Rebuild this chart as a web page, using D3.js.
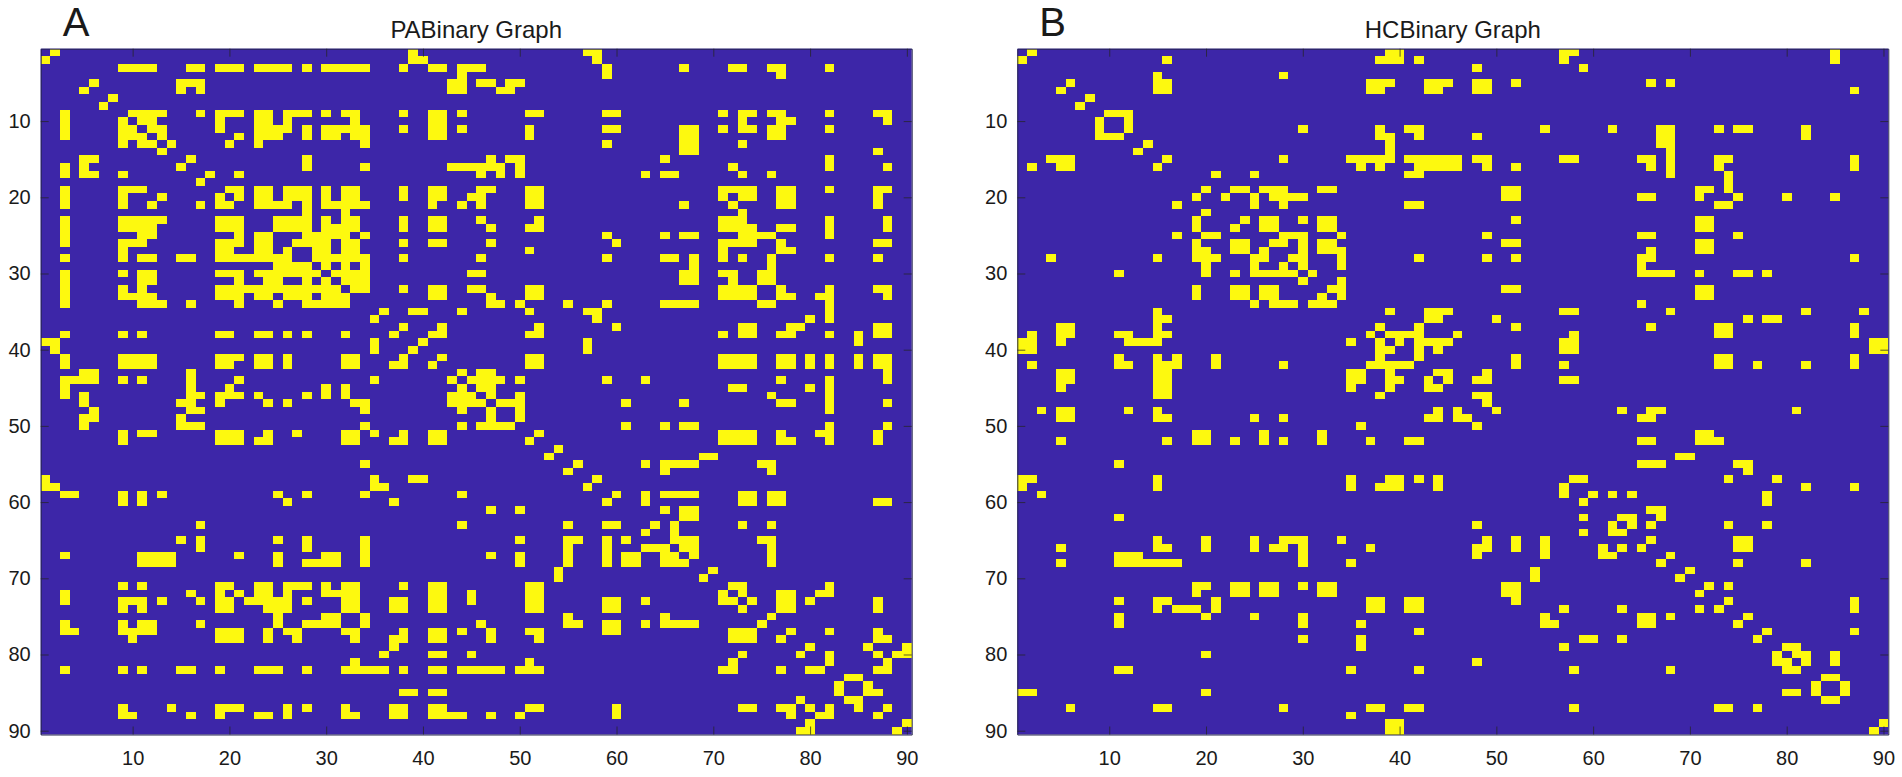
<!DOCTYPE html>
<html>
<head>
<meta charset="utf-8">
<script src="https://cdn.jsdelivr.net/npm/d3@7"></script>
<style>
  html, body { margin: 0; padding: 0; background: #fff; }
  svg { display: block; }
  text { font-family: "Liberation Sans", Arial, sans-serif; fill: #1a1a1a; }
</style>
</head>
<body>
<div id="chart"></div>
<script>
// binary graphs, 90 x 90, symmetric
// each list holds the columns set in that row, right of the diagonal only
var paRows = [
  [2,39,57,58],
  [39,40,58],
  [9,10,11,12,16,17,19,20,21,23,24,25,26,28,30,31,32,33,34,38,41,42,44,45,46,59,67,72,73,76,77,82],
  [44,59,77],
  [6,15,16,17,43,44,46,47,49,50],
  [15,17,43,44,48,49],
  [8],
  [],
  [10,11,12,13,17,19,20,21,23,24,26,27,28,30,32,33,38,41,42,44,51,52,59,60,71,73,74,76,77,82,87,88],
  [11,12,19,23,24,26,33,41,42,73,77,78,88],
  [12,13,19,23,24,25,26,28,30,31,32,33,34,38,41,42,44,51,59,60,67,68,71,73,74,76,77,82],
  [13,21,23,24,25,28,30,31,33,34,41,42,51,67,68,76,77],
  [14,20,23,34,59,67,68,73],
  [67,68,87],
  [16,28,47,49,50,65,82],
  [28,34,43,44,45,46,47,48,50,72,82,88],
  [18,21,46,48,50,63,65,66,73,76],
  [],
  [20,21,23,24,26,27,28,30,32,33,38,41,42,46,47,51,52,71,72,73,74,77,78,82,87,88],
  [21,23,24,26,27,28,30,32,33,38,41,42,45,46,51,52,71,73,74,77,78,87],
  [23,24,25,26,28,30,31,32,33,34,41,44,46,51,52,67,72,77,78,87],
  [28,32,73],
  [25,26,27,28,30,32,33,38,41,42,46,52,71,72,73,82,88],
  [25,26,27,28,30,31,32,33,38,41,42,47,51,52,71,72,73,74,77,78,82,88],
  [28,29,30,31,32,34,59,65,67,68,73,74,75,76,82],
  [27,28,29,30,32,33,38,41,42,47,60,71,72,73,74,77,87,88],
  [29,30,32,33,51,71,77,78],
  [29,30,31,32,33,34,38,46,59,65,66,68,71,73,76,82,87],
  [30,32,34,68,76],
  [31,32,33,34,45,46,67,68,71,72,75,76],
  [32,33,34,67,68,72,75,76],
  [33,34,38,41,42,45,46,51,52,71,72,73,74,77,82,87,88],
  [41,42,47,51,52,71,72,73,74,77,78,81,82,88],
  [47,48,50,55,59,65,66,67,68,75,76,82],
  [36,39,40,44,51,57,58,82],
  [58,80,82],
  [38,42,52,60,73,74,78,79,87,88],
  [41,42,51,52,71,73,74,77,78,82,85,87,88],
  [40,57,85],
  [57],
  [42,51,52,71,72,73,74,77,78,80,82,85,87,88],
  [51,52,71,72,73,74,77,78,80,82,85,87,88],
  [44,46,47,88],
  [45,46,47,48,50,59,63,77,82,88],
  [46,47,72,73,80,82],
  [47,50,76,82],
  [48,49,50,61,67,77,78,82,88],
  [50,82],
  [50],
  [61,65,67,68,82,88],
  [52,71,72,73,74,77,81,82,87],
  [71,72,73,74,77,78,82,87],
  [54],
  [69,70],
  [56,63,65,66,67,68,75,76],
  [65,76],
  [58],
  [],
  [60,63,65,66,67,68,73,74,76,77],
  [63,73,74,76,77,87,88],
  [65,67,68],
  [67,68],
  [64,66,73,76],
  [66],
  [66,67,68,75,76],
  [67,68,76],
  [68,76],
  [76],
  [70],
  [],
  [72,73,82],
  [73,77,78,81,82],
  [74,77,78,80,87],
  [77,78,87],
  [76],
  [],
  [78,82,87],
  [87,88],
  [80,86,90],
  [82,87,89,90],
  [82,88],
  [87,88],
  [84,85],
  [86],
  [86,87],
  [],
  [88],
  [],
  [90],
  []
];

var hcRows = [
  [2,39,40,57,58,85],
  [16,38,39,40,42,57,85],
  [48,59],
  [15,28],
  [6,15,16,37,38,39,43,44,45,48,49,52,66,68],
  [15,16,37,38,43,44,48,49,87],
  [8],
  [],
  [10,11,12],
  [12],
  [12,30,38,41,42,55,62,67,68,73,75,76,82],
  [38,39,42,48,67,68,82],
  [14,39,67,68],
  [39,68],
  [16,28,35,36,37,38,39,41,42,43,44,45,46,48,49,57,58,65,66,68,73,74,87],
  [36,38,42,43,44,45,46,49,52,66,68,73,87],
  [21,25,41,42,68,74],
  [74],
  [20,23,24,26,27,28,32,33,51,52,71,72,74],
  [22,25,27,28,29,30,51,52,65,66,71,75,80,85],
  [25,28,41,42,73,74],
  [],
  [24,26,27,30,32,33,52,71,72],
  [26,27,32,33,71,72],
  [28,29,30,34,49,65,66,75],
  [27,28,30,32,33,51,52,71,72],
  [30,32,33,34,66,71,72],
  [29,30,34,42,49,52,65,66,87],
  [30,34,65],
  [31,65,66,67,68,71,75,76,78],
  [34],
  [33,34,51,52,71,72],
  [34,71,72],
  [65],
  [39,43,44,45,57,58,68,82,88],
  [43,44,50,76,78,79],
  [38,42,52,66,73,74,87],
  [39,40,41,42,46,58,73,74,87],
  [40,42,43,44,45,57,58,89,90],
  [42,44,57,58,89,90],
  [42,52,73,74,87],
  [52,57,73,74,77,82,87],
  [44,45,49],
  [45,48,49,57,58],
  [],
  [48,49],
  [49],
  [50,63,66,67,81],
  [65,66],
  [],
  [71,72],
  [65,66,71,72,73],
  [],
  [69,70],
  [65,66,67,75,76],
  [76],
  [58,59,74,79],
  [82,87],
  [60,62,64,78],
  [78],
  [66,67],
  [63,64,67],
  [64,66,74,78],
  [],
  [66,75,76],
  [75,76],
  [68],
  [75,82],
  [70],
  [],
  [72,74],
  [],
  [74,87],
  [87],
  [76],
  [],
  [78,87],
  [],
  [80,81],
  [81,82,85],
  [82,85],
  [],
  [84,85],
  [86],
  [86],
  [],
  [],
  [],
  [90],
  []
];

var tickLabels = [10,20,30,40,50,60,70,80,90];
var panelTitles = ["PABinary Graph", "HCBinary Graph"];
var panelLetters = ["A", "B"];

const width = 1902;
const height = 777;
const n = 90;
const color_low = "#3D26A8";
const color_high = "#FDF90F";

const svg = d3.select("#chart")
              .append("svg")
              .attr("width", width)
              .attr("height", height);

function drawPanel(rows, title, letter, left, right, top, bottom) {
    var x = d3.scaleLinear().domain([0.5, n + 0.5]).range([left, right]);
    var y = d3.scaleLinear().domain([0.5, n + 0.5]).range([top, bottom]);

    var g = svg.append("g");

    g.append("rect")
        .attr("x", left)
        .attr("y", top)
        .attr("width", right - left)
        .attr("height", bottom - top)
        .attr("fill", color_low);

    // mirror the upper triangle
    var cells = [];
    rows.forEach(function (cols, i) {
        cols.forEach(function (c) {
            cells.push({row: i + 1, col: c});
            cells.push({row: c, col: i + 1});
        });
    });

    g.selectAll("rect.cell")
        .data(cells)
        .enter()
        .append("rect")
        .attr("class", "cell")
        .attr("x", function (d) { return x(d.col - 0.5); })
        .attr("y", function (d) { return y(d.row - 0.5); })
        .attr("width", x(1.5) - x(0.5))
        .attr("height", y(1.5) - y(0.5))
        .attr("fill", color_high)
        .attr("shape-rendering", "crispEdges");

    // box ticks point inwards on all four sides
    var axes = [
        {gen: d3.axisLeft(y).tickPadding(10), at: "translate(" + left + ",0)", labels: true},
        {gen: d3.axisRight(y), at: "translate(" + right + ",0)", labels: false},
        {gen: d3.axisBottom(x).tickPadding(16), at: "translate(0," + bottom + ")", labels: true},
        {gen: d3.axisTop(x), at: "translate(0," + top + ")", labels: false}
    ];
    axes.forEach(function (a) {
        var ax = g.append("g")
            .attr("transform", a.at)
            .call(a.gen.tickValues(tickLabels).tickSizeInner(-8).tickSizeOuter(0));
        ax.selectAll("path").attr("stroke", "#262650").attr("stroke-width", 1);
        ax.selectAll("line").attr("stroke", "#262626").attr("stroke-width", 1).attr("stroke-opacity", 0.75);
        ax.selectAll("text")
            .style("font-size", "20px")
            .style("font-family", "'Liberation Sans', Arial, sans-serif")
            .attr("fill", "#1a1a1a")
            .text(function (d) { return a.labels ? d : ""; });
    });

    g.append("text")
        .attr("x", (left + right) / 2)
        .attr("y", 38)
        .attr("text-anchor", "middle")
        .style("font-size", "24px")
        .text(title);

    g.append("text")
        .attr("x", left + 22)
        .attr("y", 36)
        .style("font-size", "40px")
        .text(letter);
}

drawPanel(paRows, panelTitles[0], panelLetters[0], 40.7, 911.7, 48.7, 734.5);
drawPanel(hcRows, panelTitles[1], panelLetters[1], 1017.3, 1888.3, 48.7, 734.5);
</script>
</body>
</html>
